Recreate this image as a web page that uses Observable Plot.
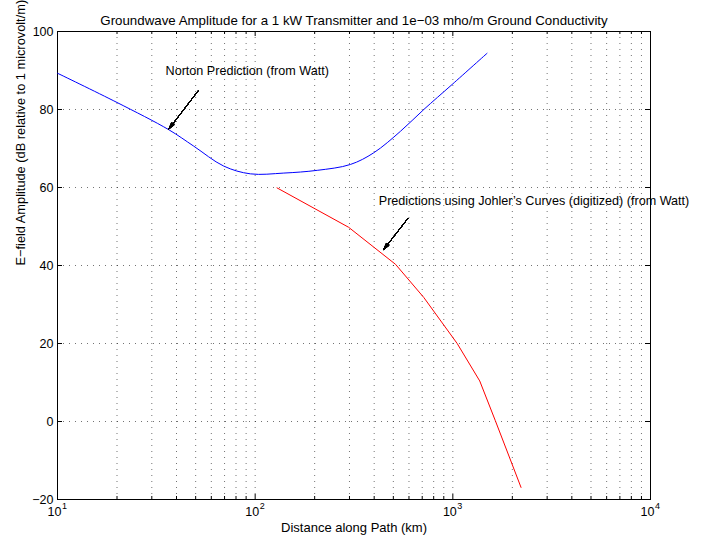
<!DOCTYPE html>
<html><head><meta charset="utf-8">
<script src="https://cdn.jsdelivr.net/npm/d3@7"></script>
<script src="https://cdn.jsdelivr.net/npm/@observablehq/plot@0.6"></script>
<style>
body{margin:0;background:#fff;}
svg{font-family:"Liberation Sans",Arial,Helvetica,sans-serif;}
</style>
</head><body><div id="chart"></div>
<script>
// Norton prediction (from Watt)
const nortonDist = [10, 20, 36.6, 48.9, 69.3, 94.6, 139.6, 206, 303, 398, 543, 713, 991, 1489];
const nortonAmp  = [89.3, 81.8, 74.8, 70.6, 65.5, 63.5, 63.7, 64.4, 65.9, 68.9, 74.4, 80.0, 86.4, 94.4];
const johlerDist = [129, 297, 513, 713, 1052, 1368, 1641, 2213];
const johlerAmp  = [59.9, 49.8, 40.3, 31.8, 20.0, 10.4, 0.2, -16.9];

const xMajorTicks = [10, 100, 1000, 10000];
const xExponents = ["1", "2", "3", "4"];
const xMinorTicks = [20,30,40,50,60,70,80,90,200,300,400,500,600,700,800,900,2000,3000,4000,5000,6000,7000,8000,9000];
const yTicks = [-20, 0, 20, 40, 60, 80, 100];
const yTickLabels = ["\u221220", "0", "20", "40", "60", "80", "100"];

const titleText = "Groundwave Amplitude for a 1 kW Transmitter and 1e\u221203 mho/m Ground Conductivity";
const xLabel = "Distance along Path (km)";
const yLabel = "E\u2212field Amplitude (dB relative to 1 microvolt/m)";

const annotTexts = ["Norton Prediction (from Watt)", "Predictions using Johler\u2019s Curves (digitized) (from Watt)"];
const annotTextX = [35.2, 422];
const annotTextY = [90.0, 56.5];
const arrowX1 = [51.5, 591];
const arrowY1 = [84.8, 52.0];
const arrowX2 = [36.6, 447];
const arrowY2 = [75.0, 44.1];

const norton = nortonDist.map((d, i) => ({d, a: nortonAmp[i]}));
const johler = johlerDist.map((d, i) => ({d, a: johlerAmp[i]}));
const annots = annotTexts.map((t, i) => ({t, x: annotTextX[i], y: annotTextY[i]}));
const arrows = arrowX1.map((x1, i) => ({x1, y1: arrowY1[i], x2: arrowX2[i], y2: arrowY2[i]}));
const xMajor = xMajorTicks.map((v, i) => ({v, e: xExponents[i]}));
const yT = yTicks.map((v, i) => ({v, l: yTickLabels[i]}));

const W = 706, H = 539;
const mL = 57, mR = 56, mT = 31, mB = 40;
const ph = H - mT - mB;

const gridX = xMajorTicks.concat(xMinorTicks).filter(v => v > 10 && v < 10000);
const gridY = yTicks.filter(v => v > -20 && v < 100);

const headAngles = d3.range(0, 34, 2);

const plot = Plot.plot({
  width: W, height: H,
  marginLeft: mL, marginRight: mR, marginTop: mT, marginBottom: mB,
  x: {type: "log", domain: [10, 10000], axis: null},
  y: {domain: [-20, 100], axis: null},
  style: {fontFamily: "'Liberation Sans', Arial, sans-serif", background: "#fff"},
  marks: [
    Plot.ruleX(gridX, {x: d => d, stroke: "#000", strokeOpacity: 0.55, strokeDasharray: "1,5"}),
    Plot.ruleY(gridY, {y: d => d, stroke: "#000", strokeOpacity: 0.55, strokeDasharray: "1,5"}),
    // inward ticks
    Plot.tickX(xMajorTicks, {x: d => d, insetTop: ph - 5, stroke: "#000"}),
    Plot.tickX(xMajorTicks, {x: d => d, insetBottom: ph - 5, stroke: "#000"}),
    Plot.tickX(xMinorTicks, {x: d => d, insetTop: ph - 3, stroke: "#000"}),
    Plot.tickX(xMinorTicks, {x: d => d, insetBottom: ph - 3, stroke: "#000"}),
    Plot.tickY(yTicks, {y: d => d, insetRight: (W - mL - mR) - 5, stroke: "#000"}),
    Plot.tickY(yTicks, {y: d => d, insetLeft: (W - mL - mR) - 5, stroke: "#000"}),
    Plot.frame({stroke: "#000", strokeWidth: 1}),
    // data
    Plot.line(norton, {x: "d", y: "a", stroke: "#0000ff", strokeWidth: 1, curve: "catmull-rom"}),
    Plot.line(johler, {x: "d", y: "a", stroke: "#ff0000", strokeWidth: 1}),
    // annotations
    Plot.text(annots, {x: "x", y: "y", text: "t", textAnchor: "start", fontSize: 12.6, fill: "#000"}),
    ...headAngles.map(ha => Plot.arrow(arrows, {x1: "x1", y1: "y1", x2: "x2", y2: "y2", stroke: "#000", strokeWidth: 1, headLength: 10, headAngle: ha})),
    // tick labels
    Plot.text(yT, {y: "v", text: "l", frameAnchor: "left", textAnchor: "end", dx: -4, fontSize: 12.5}),
    Plot.text(xMajor, {x: "v", text: () => "10", frameAnchor: "bottom", dx: -3, dy: 16, fontSize: 12.5}),
    Plot.text(xMajor, {x: "v", text: "e", frameAnchor: "bottom", dx: 7, dy: 9, fontSize: 9}),
    // titles
    Plot.text([titleText], {text: d => d, frameAnchor: "top", dy: -16, fontSize: 13.3}),
    Plot.text([xLabel], {text: d => d, frameAnchor: "bottom", dy: 32, fontSize: 13}),
    Plot.text([yLabel], {text: d => d, frameAnchor: "left", rotate: -90, dx: -37, fontSize: 12.8})
  ]
});
document.getElementById("chart").appendChild(plot);
</script>
</body></html>
